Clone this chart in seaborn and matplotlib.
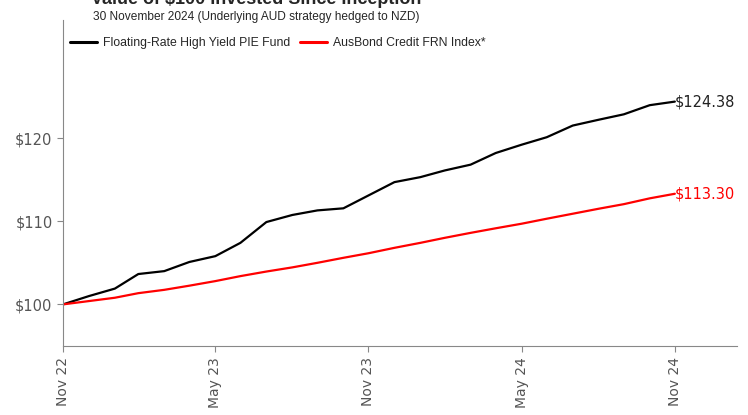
import pandas as pd
import matplotlib.pyplot as plt
import seaborn as sns
from matplotlib.lines import Line2D

dates = pd.date_range("2022-11-30", "2024-11-30", freq="ME")
fund = [100.0, 101.0, 101.9, 103.65, 104.0, 105.1, 105.8, 107.4, 109.9, 110.75,
        111.3, 111.55, 113.1, 114.7, 115.3, 116.1, 116.8, 118.2, 119.2, 120.1,
        121.5, 122.2, 122.85, 123.95, 124.38]
index = [100.0, 100.4, 100.8, 101.35, 101.75, 102.25, 102.8, 103.4, 103.95, 104.45,
         105.0, 105.6, 106.15, 106.8, 107.4, 108.0, 108.6, 109.15, 109.7, 110.3,
         110.9, 111.5, 112.05, 112.75, 113.30]
series_names = ["Floating-Rate High Yield PIE Fund", "AusBond Credit FRN Index*"]
tick_dates = ["2022-11-30", "2023-05-31", "2023-11-30", "2024-05-31", "2024-11-30"]
tick_labels = ["Nov 22", "May 23", "Nov 23", "May 24", "Nov 24"]
y_ticks = [100, 110, 120]

df = pd.DataFrame({"Date": list(dates) * 2,
                   "Value": fund + index,
                   "Series": [series_names[0]] * len(fund) + [series_names[1]] * len(index)})

sns.set_style("white")
plt.rcParams['font.family'] = ['DejaVu Sans']
head_font = "Liberation Sans"

fig = plt.figure(figsize=(7.48, 4.15), dpi=100)
ax = fig.add_axes([0.0842, 0.1663, 0.9008, 0.7857])
sns.lineplot(data=df, x="Date", y="Value", hue="Series",
             palette={series_names[0]: "black", series_names[1]: "#ff0000"},
             linewidth=1.6, ax=ax, legend=False)

ax.set_xlim(pd.Timestamp("2022-11-30"), pd.Timestamp("2025-02-12"))
ax.set_ylim(95, 134.2)
ax.set_xticks([pd.Timestamp(d) for d in tick_dates])
ax.set_xticklabels(tick_labels, rotation=90, color="#555555", fontsize=10)
ax.set_yticks(y_ticks)
ax.set_yticklabels([f"${v}" for v in y_ticks], color="#555555", fontsize=10.5)
ax.set_xlabel("")
ax.set_ylabel("")
for s in ["top", "right"]:
    ax.spines[s].set_visible(False)
for s in ["left", "bottom"]:
    ax.spines[s].set_color("#888888")
    ax.spines[s].set_linewidth(0.8)
ax.tick_params(axis="both", which="both", direction="out", length=4, width=0.8,
               color="#888888", bottom=True, left=True)
ax.tick_params(axis="x", pad=4)

ax.text(dates[-1], fund[-1], f"${fund[-1]:.2f}", color="#222222", fontsize=10.5,
        va="center", ha="left")
ax.text(dates[-1], index[-1], f"${index[-1]:.2f}", color="#ff0000", fontsize=10.5,
        va="center", ha="left")

fig.text(0.343, 0.99, "Value of $100 Invested Since Inception", fontsize=13,
         fontweight="bold", ha="center", va="baseline", family=head_font)
fig.text(0.343, 0.958, "30 November 2024 (Underlying AUD strategy hedged to NZD)",
         fontsize=8.6, ha="center", va="center", family=head_font)

handles = [Line2D([], [], color="black", lw=2.2), Line2D([], [], color="#ff0000", lw=2.2)]
fig.legend(handles, series_names, loc="center", bbox_to_anchor=(0.372, 0.896),
           ncol=2, frameon=False, prop={"family": head_font, "size": 8.8},
           handlelength=2.2, columnspacing=0.8, handletextpad=0.5)

fig.savefig("out.png", dpi=100)
